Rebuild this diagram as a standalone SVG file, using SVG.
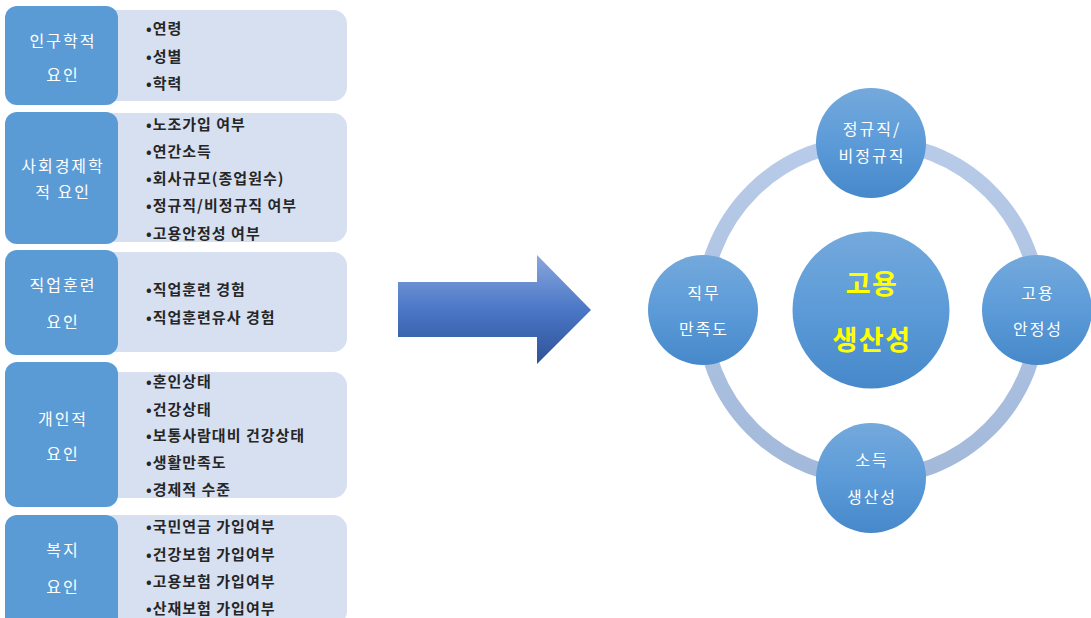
<svg xmlns="http://www.w3.org/2000/svg" width="1091" height="618" viewBox="0 0 1091 618">
<defs>
<style>
.dk{fill:#5b9bd5;}
.lt{fill:#d6e0f1;}
.dt{font-family:"Noto Sans CJK KR","Liberation Sans",sans-serif;font-size:16px;letter-spacing:2px;fill:#ffffff;text-anchor:middle;dominant-baseline:central;}
.it{font-family:"Noto Sans CJK KR","Liberation Sans",sans-serif;font-size:15px;letter-spacing:1px;font-weight:bold;fill:#262626;dominant-baseline:central;}
.ct{font-family:"Noto Sans CJK KR","Liberation Sans",sans-serif;font-size:16px;letter-spacing:2px;fill:#ffffff;text-anchor:middle;dominant-baseline:central;}
.cc{font-family:"Noto Sans CJK KR","Liberation Sans",sans-serif;font-size:27px;letter-spacing:1.5px;font-weight:bold;fill:#ffff00;text-anchor:middle;dominant-baseline:central;}
.circ{fill:url(#cg);}
</style>
<linearGradient id="cg" x1="0" y1="0" x2="0" y2="1">
<stop offset="0" stop-color="#74a9dc"/>
<stop offset="0.5" stop-color="#5c9bd8"/>
<stop offset="1" stop-color="#4688ca"/>
</linearGradient>
<linearGradient id="ag" x1="0" y1="0" x2="0" y2="1">
<stop offset="0" stop-color="#8aa7de"/>
<stop offset="0.5" stop-color="#4b77c6"/>
<stop offset="1" stop-color="#2e5296"/>
</linearGradient>
<linearGradient id="rg" x1="0" y1="0" x2="0" y2="1">
<stop offset="0" stop-color="#b8cce9"/>
<stop offset="1" stop-color="#a3b9da"/>
</linearGradient>
</defs>

<g id="factor-demographic">
<rect class="lt" x="100" y="10" width="247" height="91" rx="14"/>
<rect class="dk" x="5" y="6" width="113" height="99" rx="12"/>
<text class="dt" x="63" y="40">인구학적</text>
<text class="dt" x="63" y="74">요인</text>
<text class="it" x="146" y="27">•연령</text>
<text class="it" x="146" y="55">•성별</text>
<text class="it" x="146" y="82">•학력</text>
</g>

<g id="factor-socioeconomic">
<rect class="lt" x="100" y="113" width="247" height="129" rx="14"/>
<rect class="dk" x="5" y="112" width="113" height="132" rx="12"/>
<text class="dt" x="63" y="165">사회경제학</text>
<text class="dt" x="63" y="191">적 요인</text>
<text class="it" x="146" y="123">•노조가입 여부</text>
<text class="it" x="146" y="150">•연간소득</text>
<text class="it" x="146" y="177">•회사규모(종업원수)</text>
<text class="it" x="146" y="204">•정규직/비정규직 여부</text>
<text class="it" x="146" y="232">•고용안정성 여부</text>
</g>

<g id="factor-training">
<rect class="lt" x="100" y="252" width="247" height="100" rx="14"/>
<rect class="dk" x="5" y="250" width="113" height="105" rx="12"/>
<text class="dt" x="63" y="284">직업훈련</text>
<text class="dt" x="63" y="321">요인</text>
<text class="it" x="146" y="288">•직업훈련 경험</text>
<text class="it" x="146" y="316">•직업훈련유사 경험</text>
</g>

<g id="factor-personal">
<rect class="lt" x="100" y="372" width="247" height="126" rx="14"/>
<rect class="dk" x="5" y="362" width="113" height="145" rx="12"/>
<text class="dt" x="63" y="418">개인적</text>
<text class="dt" x="63" y="453">요인</text>
<text class="it" x="146" y="380">•혼인상태</text>
<text class="it" x="146" y="408">•건강상태</text>
<text class="it" x="146" y="434">•보통사람대비  건강상태</text>
<text class="it" x="146" y="461">•생활만족도</text>
<text class="it" x="146" y="488">•경제적 수준</text>
</g>

<g id="factor-welfare">
<rect class="lt" x="100" y="515" width="247" height="110" rx="14"/>
<rect class="dk" x="5" y="515" width="113" height="115" rx="12"/>
<text class="dt" x="63" y="549">복지</text>
<text class="dt" x="63" y="586">요인</text>
<text class="it" x="146" y="525">•국민연금 가입여부</text>
<text class="it" x="146" y="553">•건강보험 가입여부</text>
<text class="it" x="146" y="580">•고용보험 가입여부</text>
<text class="it" x="146" y="607">•산재보험 가입여부</text>
</g>

<g id="connectors">
<polygon points="398,282 537,282 537,255 591,310 537,364 537,337 398,337" fill="url(#ag)"/>
<circle cx="871" cy="310" r="168" fill="none" stroke="url(#rg)" stroke-width="15"/>
</g>

<g id="node-center">
<circle class="circ" cx="871" cy="310" r="78.5"/>
<text class="cc" x="872" y="282">고용</text>
<text class="cc" x="872" y="338">생산성</text>
</g>

<g id="node-top">
<circle class="circ" cx="871" cy="143" r="55"/>
<text class="ct" x="872" y="128">정규직/</text>
<text class="ct" x="872" y="155">비정규직</text>
</g>

<g id="node-left">
<circle class="circ" cx="703" cy="310" r="55"/>
<text class="ct" x="704" y="292">직무</text>
<text class="ct" x="704" y="328">만족도</text>
</g>

<g id="node-right">
<circle class="circ" cx="1037" cy="310" r="55"/>
<text class="ct" x="1038" y="292">고용</text>
<text class="ct" x="1038" y="328">안정성</text>
</g>

<g id="node-bottom">
<circle class="circ" cx="871" cy="478" r="55"/>
<text class="ct" x="872" y="459">소득</text>
<text class="ct" x="872" y="496">생산성</text>
</g>
</svg>
